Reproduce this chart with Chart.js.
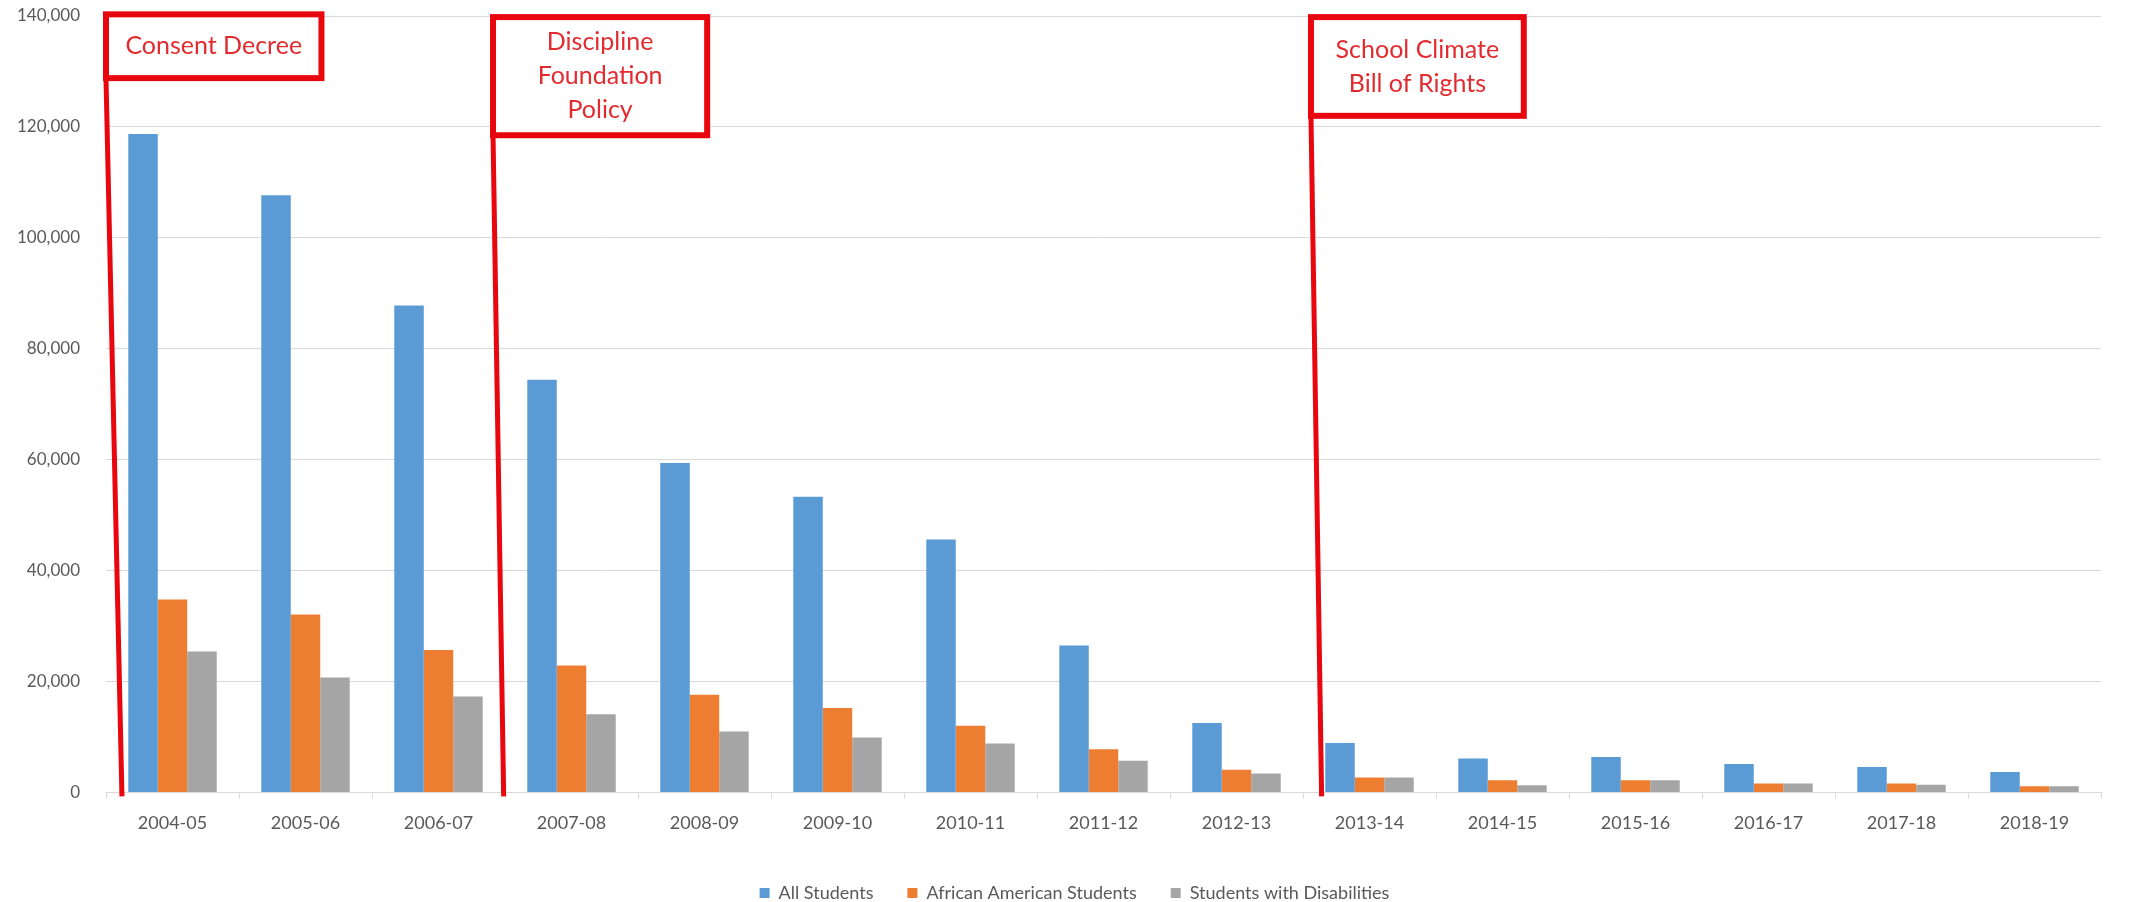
<!DOCTYPE html>
<html>
<head>
<meta charset="utf-8">
<script src="https://cdn.jsdelivr.net/npm/chart.js@4/dist/chart.umd.min.js"></script>
<style>
  html, body { margin: 0; padding: 0; background: #ffffff; }
  #wrap { width: 2131px; height: 902px; position: relative; }
</style>
</head>
<body>
<div id="wrap"><canvas id="chart"></canvas></div>
<script>
// School years on the x axis
const schoolYears = ['2004-05','2005-06','2006-07','2007-08','2008-09','2009-10','2010-11','2011-12','2012-13','2013-14','2014-15','2015-16','2016-17','2017-18','2018-19'];

// Suspension counts per group
const allStudents = [118700, 107700, 87800, 74400, 59400, 53300, 45600, 26500, 12500, 8900, 6100, 6400, 5100, 4600, 3700];
const africanAmericanStudents = [34800, 32100, 25700, 22900, 17600, 15200, 12000, 7800, 4100, 2700, 2200, 2200, 1600, 1600, 1100];
const studentsWithDisabilities = [25400, 20700, 17300, 14100, 11000, 9900, 8800, 5700, 3400, 2700, 1300, 2200, 1600, 1400, 1100];

const seriesNames = ['All Students', 'African American Students', 'Students with Disabilities'];

// Y axis ticks
const yTicks = [0, 20000, 40000, 60000, 80000, 100000, 120000, 140000];

// Policy milestones, each a text block attached to a vertical marker
const policyLabels = [
  ['Consent Decree'],
  ['Discipline', 'Foundation', 'Policy'],
  ['School Climate', 'Bill of Rights']
];

// Where each milestone box and its marker sit (category index units / axis values)
const policyPlacement = [
  { lineTop: -0.50, lineBottom: -0.38, boxWidth: 1.62, boxTop: 140300, boxBottom: 128800 },
  { lineTop: 2.41,  lineBottom: 2.49,  boxWidth: 1.61, boxTop: 139800, boxBottom: 118500 },
  { lineTop: 8.56,  lineBottom: 8.64,  boxWidth: 1.60, boxTop: 139800, boxBottom: 122000 }
];

const RED = '#e8070e';
const TEXT_RED = '#e32b2f';

const policyMarkers = {
  id: 'policyMarkers',
  afterDatasetsDraw(chart) {
    const ctx = chart.ctx;
    const x = chart.scales.x, y = chart.scales.y;
    const x0 = x.getPixelForValue(0);
    const step = x.getPixelForValue(1) - x0;
    const px = (i) => x0 + i * step;
    const baseY = y.getPixelForValue(0) + 4;
    ctx.save();
    policyPlacement.forEach((p, k) => {
      const left = px(p.lineTop);
      const right = px(p.lineTop + p.boxWidth);
      const top = y.getPixelForValue(p.boxTop);
      const bottom = y.getPixelForValue(p.boxBottom);
      // marker line
      ctx.strokeStyle = RED;
      ctx.lineWidth = 5;
      ctx.lineCap = 'butt';
      ctx.beginPath();
      ctx.moveTo(left, bottom);
      ctx.lineTo(px(p.lineBottom), baseY);
      ctx.stroke();
      // box
      ctx.fillStyle = '#ffffff';
      ctx.fillRect(left, top, right - left, bottom - top);
      ctx.lineWidth = 6;
      ctx.strokeRect(left, top, right - left, bottom - top);
      // label
      const lines = policyLabels[k];
      ctx.fillStyle = TEXT_RED;
      ctx.font = '25px Lato, "Open Sans", sans-serif';
      ctx.textAlign = 'center';
      ctx.textBaseline = 'middle';
      const lh = 34;
      const cx = (left + right) / 2;
      const cy = (top + bottom) / 2;
      lines.forEach((t, j) => {
        ctx.fillText(t, cx, cy + (j - (lines.length - 1) / 2) * lh);
      });
    });
    ctx.restore();
  }
};

// Nudge the legend row so it centres under the plot area
const legendShift = {
  id: 'legendShift',
  afterLayout(chart) {
    if (chart.legend) {
      chart.legend.left += 22;
      chart.legend.right += 22;
    }
  }
};

Chart.defaults.font.family = 'Lato, "Open Sans", sans-serif';
Chart.defaults.color = '#595959';

new Chart(document.getElementById('chart'), {
  type: 'bar',
  data: {
    labels: schoolYears,
    datasets: [
      { label: seriesNames[0], data: allStudents, backgroundColor: '#5b9bd5' },
      { label: seriesNames[1], data: africanAmericanStudents, backgroundColor: '#ed7d31' },
      { label: seriesNames[2], data: studentsWithDisabilities, backgroundColor: '#a5a5a5' }
    ]
  },
  options: {
    responsive: true,
    maintainAspectRatio: false,
    animation: false,
    layout: { padding: { left: 4, right: 30, top: 16, bottom: -10 } },
    datasets: { bar: { categoryPercentage: 0.665, barPercentage: 1.0 } },
    plugins: {
      legend: {
        position: 'bottom',
        labels: {
          boxWidth: 10, boxHeight: 10, padding: 34,
          font: { size: 18 }, color: '#595959'
        }
      },
      tooltip: { enabled: false }
    },
    scales: {
      x: {
        grid: { offset: true, drawOnChartArea: false, drawTicks: true, tickLength: 6, color: '#d9d9d9' },
        border: { color: '#d9d9d9' },
        ticks: { font: { size: 18 }, color: '#595959', padding: 14, maxRotation: 0 },
        afterFit(axis) { axis.height += 2; }
      },
      y: {
        min: 0, max: 140000,
        afterBuildTicks(axis) { axis.ticks = yTicks.map(v => ({ value: v })); },
        afterFit(axis) { axis.width = 102; },
        grid: { color: '#d9d9d9', drawTicks: true, tickLength: 26, tickColor: 'rgba(0,0,0,0)' },
        border: { display: false },
        ticks: {
          font: { size: 17 }, color: '#595959', padding: 0,
          callback: (v) => Number(v).toLocaleString('en-US')
        }
      }
    }
  },
  plugins: [policyMarkers, legendShift]
});
</script>
</body>
</html>
